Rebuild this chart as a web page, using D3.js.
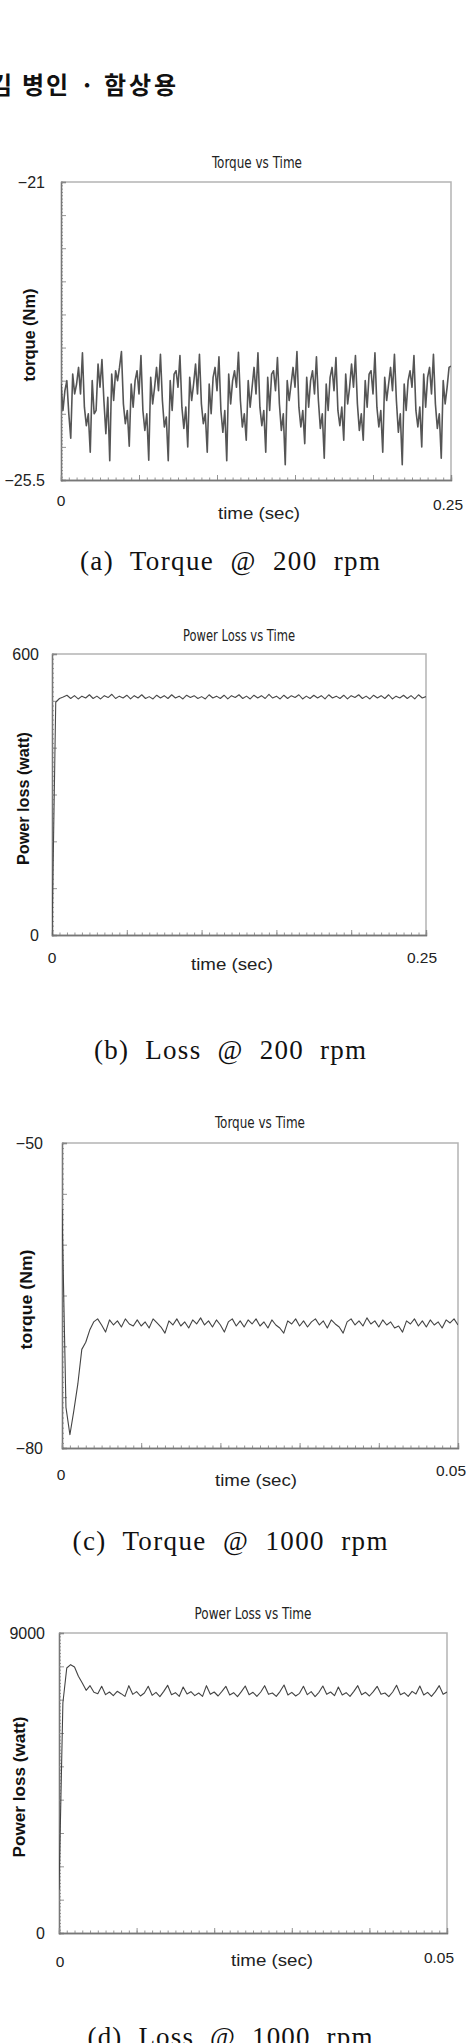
<!DOCTYPE html>
<html>
<head>
<meta charset="utf-8">
<script src="https://cdn.jsdelivr.net/npm/d3@7"></script>
<style>
  body { margin: 0; background: #fff; }
  svg { display: block; }
</style>
</head>
<body>
<div id="chart"></div>
<script>
// Values (uniform time steps over each x range)

// (a) torque @ 200 rpm, 0 .. 0.25 s
var torque200 = [
  -24.05, -24.45, -24.15, -24.0, -24.5,
  -24.87, -23.9, -24.2, -24.05, -23.8, -24.2, -23.58, -24.4, -24.68, -24.5,
  -25.08, -24.0, -24.5, -24.45, -23.75, -24.1, -23.68, -24.3, -24.8, -24.25,
  -25.21, -23.9, -24.3, -23.85, -24.0, -23.8, -23.56, -24.35, -24.65, -24.45,
  -24.99, -24.05, -24.4, -24.0, -23.85, -24.2, -23.62, -24.45, -24.75, -24.5,
  -25.2, -23.95, -24.35, -24.1, -23.8, -24.15, -23.6, -24.3, -24.7, -24.55,
  -25.21, -24.0, -24.45, -23.9, -23.85, -24.1, -23.62, -24.4, -24.72, -24.4,
  -25.0, -23.95, -24.3, -24.05, -23.75, -24.2, -23.6, -24.35, -24.65, -24.5,
  -25.08, -24.05, -24.5, -23.95, -23.8, -24.15, -23.64, -24.45, -24.78, -24.45,
  -25.21, -23.9, -24.35, -24.0, -23.85, -24.1, -23.57, -24.3, -24.7, -24.5,
  -24.9, -24.0, -24.4, -24.1, -23.8, -24.2, -23.58, -24.4, -24.68, -24.45,
  -25.08, -23.95, -24.45, -23.9, -23.85, -24.15, -23.65, -24.35, -24.75, -24.5,
  -25.27, -24.0, -24.3, -24.05, -23.8, -24.1, -23.56, -24.4, -24.7, -24.45,
  -24.95, -23.95, -24.4, -24.0, -23.85, -24.2, -23.64, -24.3, -24.72, -24.5,
  -25.17, -24.05, -24.45, -23.95, -23.8, -24.15, -23.65, -24.45, -24.68, -24.4,
  -24.9, -23.9, -24.35, -24.1, -23.75, -24.1, -23.62, -24.35, -24.75, -24.5,
  -24.9, -24.0, -24.4, -23.9, -23.85, -24.2, -23.58, -24.4, -24.7, -24.45,
  -25.08, -23.95, -24.3, -24.05, -23.8, -24.15, -23.6, -24.3, -24.78, -24.5,
  -25.27, -24.05, -24.45, -24.0, -23.85, -24.1, -23.62, -24.45, -24.7, -24.4,
  -25.0, -23.9, -24.4, -23.95, -23.8, -24.2, -23.6, -24.35, -24.72, -24.5,
  -25.17, -24.0, -24.35, -24.1, -23.8, -23.78
];

// (b) power loss @ 200 rpm, 0 .. 0.25 s
var loss200 = [
  0, 497, 505,
  508, 512, 505, 511, 504, 510, 506, 513, 505, 510,
  504, 511, 507, 514, 505, 510, 506, 512, 504, 511,
  506, 513, 505, 509, 504, 512, 506, 511, 505, 513,
  506, 510, 504, 512, 507, 511, 505, 509, 504, 513,
  506, 510, 505, 512, 504, 511, 507, 513, 505, 510,
  504, 512, 506, 511, 505, 514, 506, 510, 504, 512,
  505, 511, 507, 513, 504, 510, 505, 512, 506, 511,
  504, 513, 506, 510, 505, 512, 504, 511, 507, 513,
  505, 510, 504, 512, 506, 511, 505, 513, 504, 510,
  506, 512, 505, 511, 504, 513, 506, 509
];

// (c) torque @ 1000 rpm, 0 .. 0.05 s
var torque1000 = [
  -56.5, -76.0, -78.7, -76.3, -73.7, -70.3, -69.6, -68.4,
  -67.6, -67.3, -67.9, -68.6, -67.4, -67.9, -67.5, -68.1, -67.3, -67.8,
  -68.0, -67.4, -68.0, -67.6, -68.2, -67.3, -67.7, -68.1, -68.7, -67.5,
  -67.9, -67.3, -68.0, -67.6, -68.2, -67.4, -67.8, -67.2, -67.9, -67.5,
  -68.1, -67.4, -67.9, -68.6, -67.6, -67.3, -68.0, -67.5, -68.1, -67.4,
  -67.8, -67.3, -68.0, -67.6, -68.2, -67.4, -67.9, -68.2, -68.7, -67.5,
  -67.8, -67.3, -68.0, -67.5, -68.1, -67.6, -67.3, -67.9, -67.5, -68.2,
  -67.4, -67.8, -68.1, -68.7, -67.6, -67.3, -67.9, -67.5, -68.0, -67.2,
  -67.8, -67.5, -68.1, -67.4, -67.9, -67.6, -68.2, -68.0, -68.6, -67.5,
  -67.8, -67.3, -68.0, -67.5, -68.1, -67.4, -67.9, -67.6, -68.2, -67.4,
  -67.7, -67.3, -67.9
];

// (d) power loss @ 1000 rpm, 0 .. 0.05 s
var loss1000 = [
  1300, 6900, 7950, 8050, 7980, 7700, 7500, 7280, 7420, 7220, 7180,
  7400, 7150, 7230, 7120, 7250, 7180, 7100, 7420, 7160, 7240,
  7110, 7200, 7400, 7130, 7220, 7090, 7250, 7430, 7150, 7210,
  7100, 7380, 7170, 7240, 7120, 7200, 7100, 7420, 7160, 7230,
  7110, 7250, 7400, 7140, 7210, 7090, 7240, 7410, 7150, 7220,
  7100, 7230, 7420, 7160, 7200, 7100, 7250, 7440, 7140, 7220,
  7110, 7190, 7400, 7150, 7240, 7090, 7220, 7410, 7160, 7230,
  7120, 7380, 7140, 7210, 7100, 7250, 7420, 7150, 7220, 7110,
  7240, 7400, 7160, 7200, 7090, 7230, 7430, 7150, 7210, 7100,
  7250, 7170, 7410, 7140, 7220, 7100, 7240, 7420, 7160, 7230
];

// axis ranges and end labels
var time200 = [0, 0.25];
var time1000 = [0, 0.05];
var torque200Range = [-25.5, -21];
var loss200Range = [0, 600];
var torque1000Range = [-80, -50];
var loss1000Range = [0, 9000];

var xLabels200 = ['0', '0.25'];
var xLabels1000 = ['0', '0.05'];
var yLabelsTorque200 = ['\u221225.5', '\u221221'];
var yLabelsLoss200 = ['0', '600'];
var yLabelsTorque1000 = ['\u221280', '\u221250'];
var yLabelsLoss1000 = ['0', '9000'];

var captions = [
  '(a)  Torque  @  200  rpm',
  '(b)  Loss  @  200  rpm',
  '(c)  Torque  @  1000  rpm',
  '(d)  Loss  @  1000  rpm'
];

// layout of the four panels (pixels)
var panels = [
  { id: 'a', values: torque200, xDomain: time200, yDomain: torque200Range,
    xLabels: xLabels200, yLabels: yLabelsTorque200,
    box: [61, 182, 451, 480], yMajor: 0.5, yMinor: 0.05,
    title: 'Torque vs Time', titleX: 257, titleY: 168, titleLen: 90,
    yTitle: 'torque (Nm)', yTitleX: 35, yTitleLen: 93, yLabelGap: 16,
    xLabelDy: [26, 30], xLabelDx: [0, -3],
    xTitleX: 259, xTitleY: 519,
    caption: captions[0], capY: 570, capLen: 300,
    stroke: '#555', width: 1.6 },
  { id: 'b', values: loss200, xDomain: time200, yDomain: loss200Range,
    xLabels: xLabels200, yLabels: yLabelsLoss200,
    box: [52, 654, 426, 935], yMajor: 100, yMinor: 10,
    title: 'Power Loss vs Time', titleX: 239, titleY: 641, titleLen: 112,
    yTitle: 'Power loss (watt)', yTitleX: 29, yTitleLen: 133, yLabelGap: 13,
    xLabelDy: [28, 28], xLabelDx: [0, -4],
    xTitleX: 232, xTitleY: 970,
    caption: captions[1], capY: 1059, capLen: 272,
    stroke: '#4a4a4a', width: 1.1 },
  { id: 'c', values: torque1000, xDomain: time1000, yDomain: torque1000Range,
    xLabels: xLabels1000, yLabels: yLabelsTorque1000,
    box: [62, 1143, 458, 1448], yMajor: 5, yMinor: 0.5,
    title: 'Torque vs Time', titleX: 260, titleY: 1128, titleLen: 90,
    yTitle: 'torque (Nm)', yTitleX: 32, yTitleLen: 100, yLabelGap: 19,
    xLabelDy: [32, 28], xLabelDx: [-1, -7],
    xTitleX: 256, xTitleY: 1486,
    caption: captions[2], capY: 1550, capLen: 315,
    stroke: '#444', width: 1.1 },
  { id: 'd', values: loss1000, xDomain: time1000, yDomain: loss1000Range,
    xLabels: xLabels1000, yLabels: yLabelsLoss1000,
    box: [59, 1633, 447, 1933], yMajor: 1000, yMinor: 100,
    title: 'Power Loss vs Time', titleX: 253, titleY: 1619, titleLen: 117,
    yTitle: 'Power loss (watt)', yTitleX: 25, yTitleLen: 141, yLabelGap: 14,
    xLabelDy: [34, 30], xLabelDx: [1, -8],
    xTitleX: 272, xTitleY: 1966,
    caption: captions[3], capY: 2046, capLen: 285,
    stroke: '#444', width: 1.1 }
];

var svg = d3.select('#chart').append('svg')
  .attr('width', 466)
  .attr('height', 2043);

// page header (authors), first glyph runs off the left edge as in the scan
svg.append('text')
  .attr('x', '-10 22 46 80 104 129 154')
  .attr('y', 94)
  .attr('font-family', '"Noto Sans CJK KR", sans-serif')
  .attr('font-weight', 'bold')
  .attr('font-size', 24)
  .attr('fill', '#111')
  .text('김병인·함상용');

function range(lo, hi, step) {
  var n = Math.round((hi - lo) / step);
  var out = [];
  for (var i = 0; i <= n; i++) out.push(lo + i * step);
  return out;
}

function drawPanel(p) {
  var left = p.box[0], top = p.box[1], right = p.box[2], bottom = p.box[3];
  var x = d3.scaleLinear().domain(p.xDomain).range([left, right]);
  var y = d3.scaleLinear().domain(p.yDomain).range([bottom, top]);
  var g = svg.append('g');

  g.append('clipPath').attr('id', 'clip-' + p.id)
    .append('rect')
    .attr('x', left).attr('y', top)
    .attr('width', right - left).attr('height', bottom - top);

  // light frame on top and right
  g.append('path')
    .attr('d', 'M' + left + ',' + top + 'H' + right + 'V' + bottom)
    .attr('fill', 'none')
    .attr('stroke', '#b4b4b4')
    .attr('stroke-width', 1.5);

  // y axis, ticks pointing inward
  var yMinorAxis = g.append('g')
    .attr('transform', 'translate(' + left + ',0)')
    .call(d3.axisLeft(y).tickValues(range(p.yDomain[0], p.yDomain[1], p.yMinor)).tickSize(-2).tickFormat(''));
  var yMajorAxis = g.append('g')
    .attr('transform', 'translate(' + left + ',0)')
    .call(d3.axisLeft(y).tickValues(range(p.yDomain[0], p.yDomain[1], p.yMajor)).tickSize(-5).tickFormat(''));

  // x axis, ticks pointing up
  var xStep = (p.xDomain[1] - p.xDomain[0]) / 5;
  var xMinorAxis = g.append('g')
    .attr('transform', 'translate(0,' + bottom + ')')
    .call(d3.axisBottom(x).tickValues(range(p.xDomain[0], p.xDomain[1], xStep / 10)).tickSize(-2.5).tickFormat(''));
  var xMajorAxis = g.append('g')
    .attr('transform', 'translate(0,' + bottom + ')')
    .call(d3.axisBottom(x).tickValues(range(p.xDomain[0], p.xDomain[1], xStep)).tickSize(-5).tickFormat(''));

  [yMinorAxis, yMajorAxis, xMinorAxis, xMajorAxis].forEach(function (ax) {
    ax.selectAll('.tick line').attr('stroke', '#8a8a8a').attr('stroke-width', 0.9);
    ax.select('.domain').attr('stroke', '#777').attr('stroke-width', 1.3);
  });

  // data line
  var dt = (p.xDomain[1] - p.xDomain[0]) / (p.values.length - 1);
  var line = d3.line()
    .x(function (d, i) { return x(p.xDomain[0] + i * dt); })
    .y(function (d) { return y(d); });

  g.append('path')
    .datum(p.values)
    .attr('clip-path', 'url(#clip-' + p.id + ')')
    .attr('fill', 'none')
    .attr('stroke', p.stroke)
    .attr('stroke-width', p.width)
    .attr('stroke-linejoin', 'round')
    .attr('d', line);

  // chart title
  g.append('text')
    .attr('x', p.titleX).attr('y', p.titleY)
    .attr('text-anchor', 'middle')
    .attr('font-family', '"Liberation Sans Narrow", "DejaVu Sans Condensed", "Liberation Sans", sans-serif')
    .attr('font-size', 15)
    .attr('fill', '#222')
    .attr('textLength', p.titleLen)
    .attr('lengthAdjust', 'spacingAndGlyphs')
    .text(p.title);

  // y end labels
  g.selectAll('.ylab')
    .data(p.yLabels)
    .enter().append('text')
    .attr('x', left - p.yLabelGap)
    .attr('y', function (d, i) { return y(p.yDomain[i]) + 5.5; })
    .attr('text-anchor', 'end')
    .attr('font-family', '"Liberation Sans", Arial, sans-serif')
    .attr('font-size', 16)
    .attr('fill', '#222')
    .text(function (d) { return d; });

  // x end labels
  g.selectAll('.xlab')
    .data(p.xLabels)
    .enter().append('text')
    .attr('x', function (d, i) { return x(p.xDomain[i]) + p.xLabelDx[i]; })
    .attr('y', function (d, i) { return bottom + p.xLabelDy[i]; })
    .attr('text-anchor', 'middle')
    .attr('font-family', '"Liberation Sans", Arial, sans-serif')
    .attr('font-size', 15.5)
    .attr('fill', '#222')
    .text(function (d) { return d; });

  // axis titles
  g.append('text')
    .attr('x', p.xTitleX).attr('y', p.xTitleY)
    .attr('text-anchor', 'middle')
    .attr('font-family', '"Liberation Sans", Arial, sans-serif')
    .attr('font-size', 17)
    .attr('fill', '#222')
    .attr('textLength', 82)
    .attr('lengthAdjust', 'spacingAndGlyphs')
    .text('time (sec)');

  g.append('text')
    .attr('transform', 'translate(' + p.yTitleX + ',' + ((top + bottom) / 2 + 4) + ') rotate(-90)')
    .attr('text-anchor', 'middle')
    .attr('font-family', '"Liberation Sans", Arial, sans-serif')
    .attr('font-weight', 'bold')
    .attr('font-size', 16)
    .attr('fill', '#111')
    .attr('textLength', p.yTitleLen)
    .attr('lengthAdjust', 'spacingAndGlyphs')
    .text(p.yTitle);

  // figure caption below the panel
  g.append('text')
    .attr('x', 230).attr('y', p.capY)
    .attr('text-anchor', 'middle')
    .attr('font-family', '"Liberation Serif", "Times New Roman", serif')
    .attr('font-size', 27)
    .attr('fill', '#111')
    .style('white-space', 'pre')
    .attr('textLength', p.capLen)
    .attr('lengthAdjust', 'spacing')
    .text(p.caption);
}

panels.forEach(drawPanel);
</script>
</body>
</html>
